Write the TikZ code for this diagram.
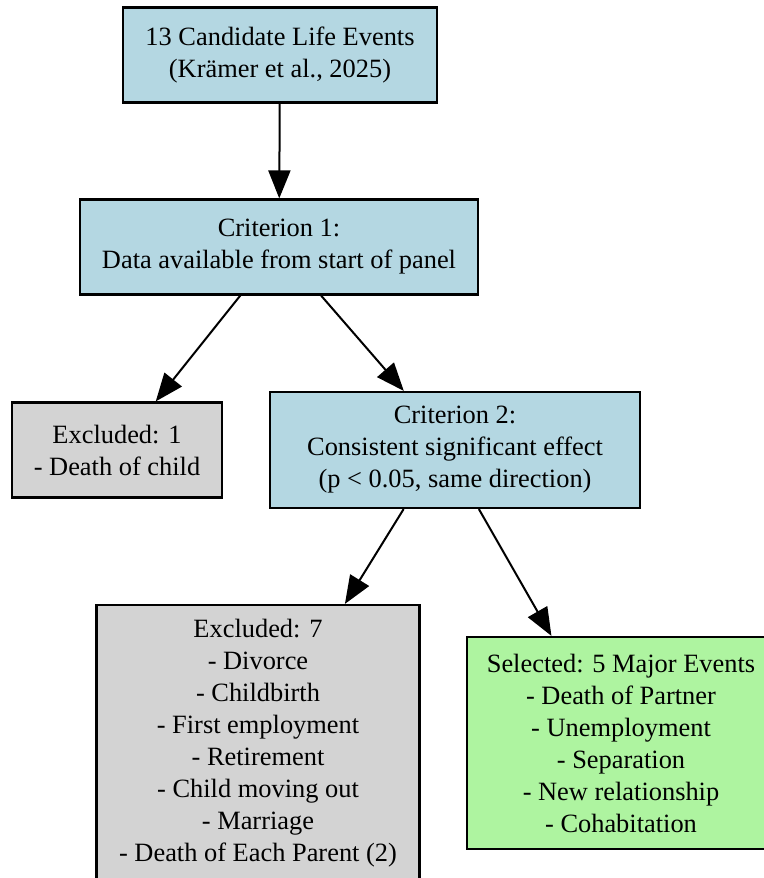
\documentclass[tikz,border=0pt]{standalone}
\usepackage{fontspec}
\setmainfont{Liberation Serif}
\usepackage{xcolor}
\usepackage{tikz}
\usetikzlibrary{shapes,arrows,arrows.meta,positioning}

\definecolor{critblue}{HTML}{B4D7E2}
\definecolor{exclgrey}{HTML}{D3D3D3}
\definecolor{selgreen}{HTML}{AEF4A0}

\tikzset{
  box/.style={draw, rectangle, line width=1.1pt, align=center, inner sep=0pt,
    font=\fontsize{13.2pt}{16pt}\selectfont},
  flow/.style={-{Triangle[length=14pt,width=11pt]}, line width=1pt}
}

\begin{document}
\begin{tikzpicture}
\useasboundingbox (0,0) rectangle (382pt,-439pt);
\node[box, fill=critblue, minimum width=157pt, minimum height=47.5pt] (cand) at (140pt,-27.5pt) {13 Candidate Life Events\\(Krämer et al., 2025)};
\node[box, fill=critblue, minimum width=199pt, minimum height=47.5pt, below of=cand, node distance=96pt, xshift=-0.5pt] (crit1) {Criterion 1:\\Data available from start of panel};
\node[box, fill=exclgrey, minimum width=105pt, minimum height=47.5pt, below of=crit1, node distance=101.5pt, xshift=-81pt] (excl1) {Excluded: 1\\- Death of child};
\node[box, fill=critblue, minimum width=185pt, minimum height=58pt, below of=crit1, node distance=101.5pt, xshift=88pt] (crit2) {Criterion 2:\\Consistent significant effect\\(p < 0.05, same direction)};
\node[box, fill=exclgrey, minimum width=161.5pt, minimum height=138pt, below of=crit2, node distance=146.5pt, xshift=-98.5pt] (excl7) {Excluded: 7\\- Divorce\\- Childbirth\\- First employment\\- Retirement\\- Child moving out\\- Marriage\\- Death of Each Parent (2)};
\node[box, fill=selgreen, minimum width=154pt, minimum height=106pt, below of=crit2, node distance=146.5pt, xshift=83pt] (sel) {Selected: 5 Major Events\\- Death of Partner\\- Unemployment\\- Separation\\- New relationship\\- Cohabitation};
\draw[flow] (cand) -- (crit1);
\draw[flow] (crit1) -- (excl1);
\draw[flow] (crit1) -- (crit2);
\draw[flow] (crit2.229) -- (excl7.58);
\draw[flow] (crit2.292) -- (sel.123);
\end{tikzpicture}
\end{document}
